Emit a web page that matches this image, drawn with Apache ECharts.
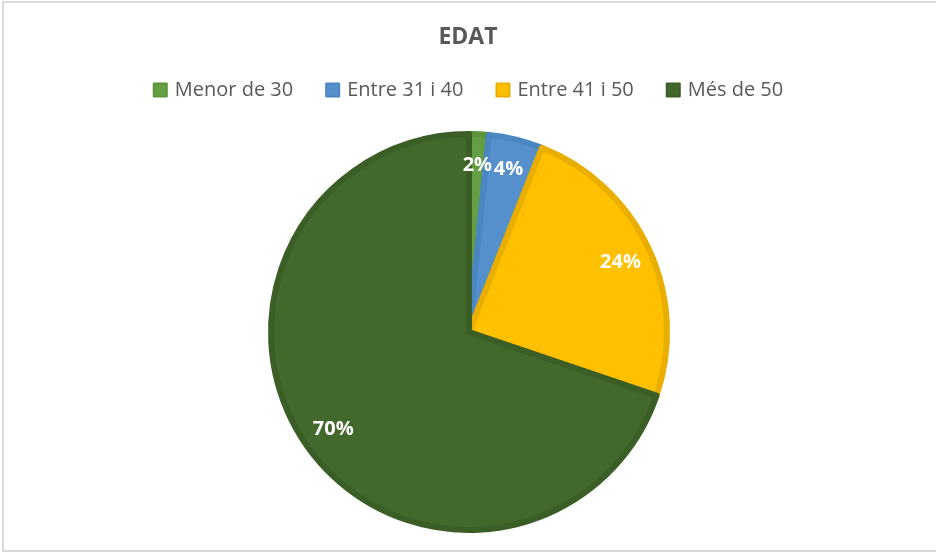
<!DOCTYPE html>
<html>
<head>
<meta charset="utf-8">
<script src="https://cdn.jsdelivr.net/npm/echarts@6/dist/echarts.min.js"></script>
<style>
  html, body { margin: 0; padding: 0; background: #fff; overflow: hidden; }
  #frame {
    position: absolute; left: 2px; top: 1px;
    width: 940px; height: 551px;
    border: 2px solid #d9d9d9; box-sizing: border-box;
  }
  #chart { position: absolute; left: 0; top: 0; width: 936px; height: 556px; }
</style>
</head>
<body>
<div id="frame"></div>
<div id="chart"></div>
<script>
// age groups and their share (%)
const categories = ['Menor de 30', 'Entre 31 i 40', 'Entre 41 i 50', 'Més de 50']
const shares = [1.6, 4.4, 24.2, 69.8]
const fills = ['#64a043', '#5590cd', '#ffc000', '#43682b']
const strokes = ['#5a9339', '#4a86c2', '#e8ae00', '#3b5d26']

const pieData = categories.map((name, i) => ({
  name,
  value: shares[i],
  itemStyle: { color: fills[i], borderColor: strokes[i] }
}))

// same values again, transparent, only used to place labels further out
const labelData = categories.map((name, i) => ({
  name,
  value: shares[i],
  itemStyle: { color: 'rgba(0,0,0,0)' }
}))

const chart = echarts.init(document.getElementById('chart'), null, { renderer: 'canvas' })

chart.setOption({
  animation: false,
  title: {
    text: 'EDAT',
    left: 'center',
    top: 21,
    textStyle: {
      color: '#595959',
      fontSize: 23,
      fontWeight: 'bold',
      fontFamily: 'Open Sans'
    }
  },
  legend: {
    data: categories,
    top: 75,
    left: 'center',
    icon: 'rect',
    itemWidth: 13,
    itemHeight: 13,
    itemGap: 32,
    textStyle: {
      color: '#595959',
      fontSize: 20,
      fontFamily: 'Open Sans',
      padding: [0, 0, 0, 3]
    }
  },
  series: [{
    type: 'pie',
    center: [469, 332],
    radius: [0, 198],
    startAngle: 90,
    clockwise: true,
    silent: true,
    itemStyle: { borderWidth: 6 },
    label: { show: false },
    labelLine: { show: false },
    data: pieData
  }, {
    type: 'pie',
    center: [469, 332],
    radius: [130, 198],
    startAngle: 90,
    clockwise: true,
    silent: true,
    label: {
      show: true,
      position: 'inside',
      color: '#fff',
      fontSize: 20,
      fontWeight: 'bold',
      fontFamily: 'Open Sans',
      formatter: p => Math.round(p.percent) + '%'
    },
    labelLine: { show: false },
    data: labelData
  }]
})
</script>
</body>
</html>
